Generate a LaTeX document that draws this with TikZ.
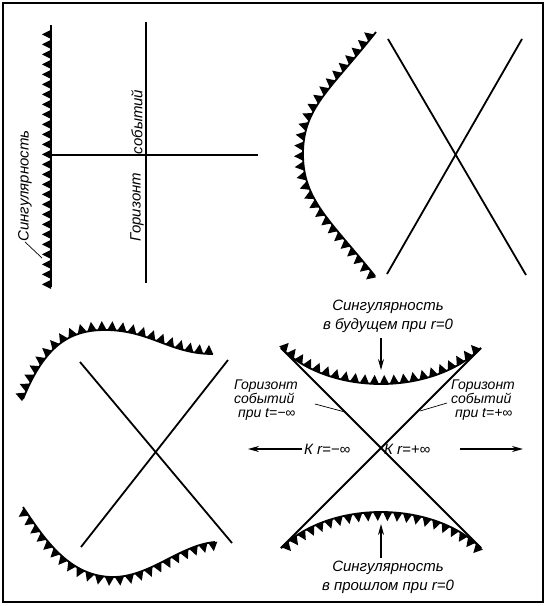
\documentclass[tikz,border=0pt]{standalone}
\usepackage{fontspec}
\setmainfont{Liberation Sans}
\usetikzlibrary{decorations.markings,arrows.meta}

\tikzset{
  singular/.style={line width=1.8pt, postaction={decorate},
    decoration={markings, mark=between positions 0.01 and 0.99 step 10pt with
      {\fill (-4.6pt,0pt) -- (4.6pt,0pt) -- (0pt,9pt) -- cycle;}}},
  horizon/.style={line width=1.8pt},
  leader/.style={line width=0.7pt},
  pointer/.style={line width=1.4pt, -{Stealth[length=11pt,width=6pt]}},
  lbl/.style={font=\itshape\fontsize{15}{12.5}\selectfont, inner sep=0pt},
  hlbl/.style={font=\itshape\fontsize{14}{14}\selectfont, inner sep=0pt, align=left, anchor=west},
  caption/.style={font=\itshape\fontsize{15}{19}\selectfont, inner sep=0pt, align=center},
}

\begin{document}
\begin{tikzpicture}[x=1pt,y=-1pt]
  \useasboundingbox (0,0) rectangle (546,606);

  % Draw frame
  \draw[line width=1.3pt] (3,3) rectangle (543,602);

  % Panel 1: singularity and horizon
  \coordinate (S1a) at (51,287);
  \coordinate (S1b) at (51,25);
  \coordinate (H1a) at (51,155);
  \coordinate (H1b) at (258,155);
  \coordinate (V1a) at (146,22);
  \coordinate (V1b) at (146,283);
  \draw[singular] (S1a) -- (S1b);
  \draw[horizon] (H1a) -- (H1b);
  \draw[horizon] (V1a) -- (V1b);
  \node[lbl, rotate=90] (ev1) at (137,122) {событий};
  \node[lbl, rotate=90] (hor1) at (137,207) {Горизонт};
  \node[lbl, rotate=90] (sing1) at (25,186) {Сингулярность};
  \coordinate (L1) at (42,258);
  \draw[leader] (sing1.west) -- (L1);

  % Panel 2: bent singularity and crossing horizons
  \coordinate (X2a) at (388,39);
  \coordinate (X2b) at (526,275);
  \coordinate (X2c) at (522,39);
  \coordinate (X2d) at (387,274);
  \draw[horizon] (X2a) -- (X2b);
  \draw[horizon] (X2c) -- (X2d);
  \draw[singular] (375,276) .. controls (330,220) and (303,200) .. (303,154)
    .. controls (303,108) and (330,90) .. (376,32);

  % Panel 3: two wavy singularities
  \coordinate (X3a) at (80,362);
  \coordinate (X3b) at (232,543);
  \coordinate (X3c) at (228,360);
  \coordinate (X3d) at (81,547);
  \draw[horizon] (X3a) -- (X3b);
  \draw[horizon] (X3c) -- (X3d);
  \draw[singular] (23,399) .. controls (45,345) and (70,330) .. (105,330)
    .. controls (150,330) and (170,354) .. (213,354);
  \draw[singular] (215,542) .. controls (180,545) and (150,577) .. (113,577)
    .. controls (70,577) and (45,540) .. (23,507);

  % Panel 4: future and past singularities
  \coordinate (X4a) at (281,348);
  \coordinate (X4b) at (481,548);
  \coordinate (X4c) at (481,348);
  \coordinate (X4d) at (281,548);
  \draw[horizon] (X4a) -- (X4b);
  \draw[horizon] (X4c) -- (X4d);
  \draw[singular] (X4a) .. controls (330,396) and (432,396) .. (X4c);
  \draw[singular] (X4b) .. controls (432,500) and (330,500) .. (X4d);

  % Labels of panel 4
  \node[caption] (fut) at (388,316) {Сингулярность\\в будущем при r=0};
  \node[caption] (past) at (388,577) {Сингулярность\\в прошлом при r=0};
  \coordinate (F1) at (381,338);
  \coordinate (F2) at (381,370);
  \coordinate (P1) at (381,558);
  \coordinate (P2) at (381,524);
  \draw[pointer] (F1) -- (F2);
  \draw[pointer] (P1) -- (P2);

  \node[hlbl] (hl) at (234,400) {Горизонт\\событий\\\ при t=−∞};
  \node[hlbl] (hr) at (451,400) {Горизонт\\событий\\\ при t=+∞};
  \coordinate (HL1) at (315,404);
  \coordinate (HL2) at (345,412);
  \coordinate (HR1) at (420,411);
  \coordinate (HR2) at (447,403);
  \draw[leader] (HL1) -- (HL2);
  \draw[leader] (HR1) -- (HR2);

  % Directions to infinity
  \node[lbl, anchor=west] (minf) at (304,449) {К r=−∞};
  \node[lbl, anchor=west] (pinf) at (384,449) {К r=+∞};
  \coordinate (M1) at (302,449);
  \coordinate (M2) at (248,449);
  \coordinate (R1) at (460,449);
  \coordinate (R2) at (523,449);
  \draw[pointer] (M1) -- (M2);
  \draw[pointer] (R1) -- (R2);
\end{tikzpicture}
\end{document}
